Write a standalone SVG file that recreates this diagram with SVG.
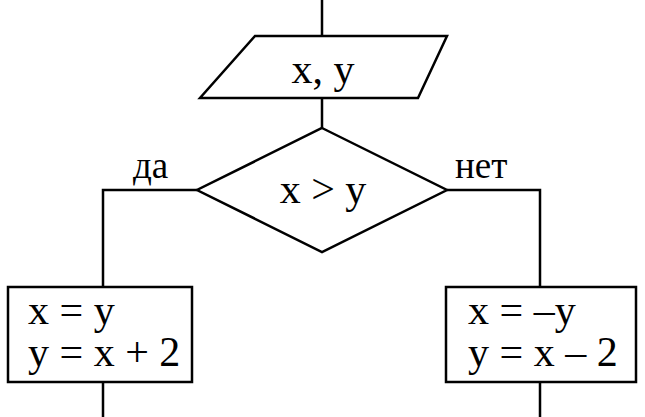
<svg xmlns="http://www.w3.org/2000/svg" width="645" height="417" viewBox="0 0 645 417">
<style>
.s{fill:#fff;stroke:#000;stroke-width:2.5}
.l{fill:none;stroke:#000;stroke-width:2.5}
text{font-family:"Liberation Serif",serif;font-size:42px;fill:#000}
.lb{font-size:37px}
</style>
<rect width="645" height="417" fill="#fff"/>
<g id="connectors">
<path class="l" d="M322 0V36M322 98V128M197 190H103V287M447 190H540V287M103 382V417M540 382V417"/>
</g>
<g id="input"><polygon class="s" points="255,36 447,36 418,98 200,98"/><text x="323" y="83" text-anchor="middle">x, y</text></g>
<g id="cond"><polygon class="s" points="322,128 447,190 322,252 197,190"/><text x="323" y="203" text-anchor="middle">x &gt; y</text></g>
<g id="yes"><text class="lb" x="133" y="178">да</text></g>
<g id="no"><text class="lb" x="455" y="178">нет</text></g>
<g id="left"><rect class="s" x="8" y="287" width="184" height="95"/><text x="28" y="324">x = y</text><text x="28" y="366">y = x + 2</text></g>
<g id="right"><rect class="s" x="446" y="287" width="190" height="95"/><text x="468" y="324">x = –y</text><text x="468" y="366">y = x – 2</text></g>
</svg>
